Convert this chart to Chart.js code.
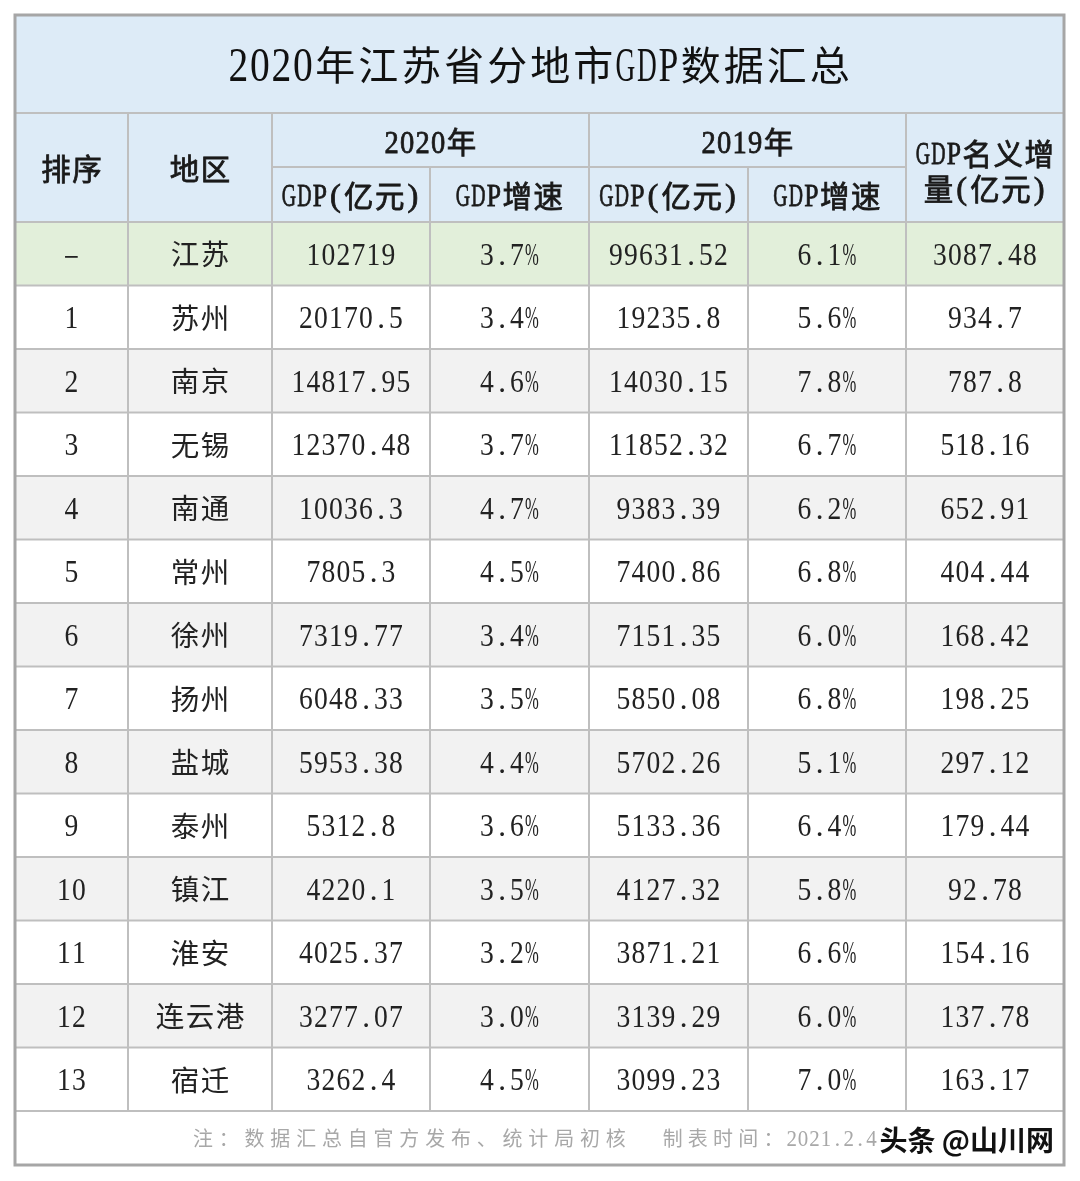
<!DOCTYPE html>
<html>
<head>
<meta charset="utf-8">
<script src="https://cdn.jsdelivr.net/npm/chart.js@4"></script>
<style>
  html, body { margin: 0; padding: 0; background: #ffffff; }
  #wrap { width: 1080px; height: 1181px; }
</style>
</head>
<body>
<div id="wrap"><canvas id="tableChart" width="1080" height="1181"></canvas></div>
<script>
// Données du tableau : une ligne par région (la première = total provincial)
const ranks = ['–', '1', '2', '3', '4', '5', '6', '7', '8', '9', '10', '11', '12', '13'];
const regions = ['江苏', '苏州', '南京', '无锡', '南通', '常州', '徐州', '扬州', '盐城', '泰州', '镇江', '淮安', '连云港', '宿迁'];
const gdp2020 = [102719, 20170.5, 14817.95, 12370.48, 10036.3, 7805.3, 7319.77, 6048.33, 5953.38, 5312.8, 4220.1, 4025.37, 3277.07, 3262.4];
const growth2020 = [3.7, 3.4, 4.6, 3.7, 4.7, 4.5, 3.4, 3.5, 4.4, 3.6, 3.5, 3.2, 3.0, 4.5];
const gdp2019 = [99631.52, 19235.8, 14030.15, 11852.32, 9383.39, 7400.86, 7151.35, 5850.08, 5702.26, 5133.36, 4127.32, 3871.21, 3139.29, 3099.23];
const growth2019 = [6.1, 5.6, 7.8, 6.7, 6.2, 6.8, 6.0, 6.8, 5.1, 6.4, 5.8, 6.6, 6.0, 7.0];
const increase = [3087.48, 934.7, 787.8, 518.16, 652.91, 404.44, 168.42, 198.25, 297.12, 179.44, 92.78, 154.16, 137.78, 163.17];

// Textes fixes
const titleText = '2020年江苏省分地市GDP数据汇总';
const noteText = '注：数据汇总自官方发布、统计局初核';
const dateText = '制表时间：2021.2.4';
const brandText = '头条 @山川网';

// Géométrie du tableau (unités des échelles)
const colEdges = [0, 113, 257, 415, 574, 733, 891, 1049];
const titleBottom = 98, headMid = 152, headBottom = 207;
const rowH = 63.5;
const bodyBottom = headBottom + rowH * regions.length;
const tableBottom = bodyBottom + 54;

const BLUE = '#ddebf7', GREEN = '#e2efda', GREY = '#f2f2f2';
const LINE = '#bfbfbf', BORDER = '#a6a6a6';
const LATIN = '"Liberation Serif"', CJK = '"Noto Sans CJK SC"';

const colValues = [ranks, regions, gdp2020, growth2020, gdp2019, growth2019, increase];
const formatters = [
  (v) => v, (v) => v, (v) => String(v), (v) => v.toFixed(1) + '%',
  (v) => String(v), (v) => v.toFixed(1) + '%', (v) => String(v)
];

// Dessin d'une chaîne façon « SimSun » : demi-chasse pour l'ASCII, chasse pleine pour le CJK
function drawSong(ctx, str, x, y, size, opts) {
  opts = opts || {};
  const half = opts.half || size * 0.5;
  const full = opts.full || size;
  const latinSize = size * (opts.latinScale || 1);
  const cjkSize = size * (opts.cjkScale || 0.95);
  const cjkDy = -size * 0.07;
  const chars = Array.from(str);
  const isHalf = chars.map((ch) => /[\x00-\xff]/.test(ch));
  const advs = isHalf.map((h) => (h ? half : full));
  const total = advs.reduce((a, b) => a + b, 0);
  let cx = opts.align === 'left' ? x : x - total / 2;
  const weight = opts.weight || 'normal';
  ctx.save();
  ctx.fillStyle = opts.color || '#1e1e1e';
  ctx.strokeStyle = opts.color || '#1e1e1e';
  ctx.lineWidth = opts.stroke || 0;
  ctx.textAlign = 'center';
  ctx.textBaseline = 'middle';
  chars.forEach((ch, i) => {
    const slot = advs[i];
    const mid = cx + slot / 2;
    ctx.font = isHalf[i]
      ? weight + ' ' + latinSize + 'px ' + LATIN
      : weight + ' ' + cjkSize + 'px ' + CJK;
    const w = ctx.measureText(ch).width;
    ctx.save();
    ctx.translate(mid, y + (isHalf[i] ? 0 : cjkDy));
    if (w > slot * 0.96) ctx.scale((slot * 0.92) / w, 1);
    ctx.fillText(ch, 0, 0);
    if (opts.stroke) ctx.strokeText(ch, 0, 0);
    ctx.restore();
    cx += slot;
  });
  ctx.restore();
}

const tablePlugin = {
  id: 'tablePlugin',
  beforeDatasetsDraw(chart) {
    const ctx = chart.ctx;
    const sx = chart.scales.x, sy = chart.scales.y;
    const px = (v) => sx.getPixelForValue(v);
    const py = (v) => sy.getPixelForValue(v);
    const L = px(0), R = px(1049);

    // Fonds
    ctx.save();
    ctx.fillStyle = BLUE;
    ctx.fillRect(L, py(0), R - L, py(headBottom) - py(0));
    regions.forEach((r, i) => {
      ctx.fillStyle = i === 0 ? GREEN : (i % 2 === 0 ? GREY : '#ffffff');
      ctx.fillRect(L, py(headBottom + rowH * i), R - L, py(headBottom + rowH * (i + 1)) - py(headBottom + rowH * i));
    });
    ctx.fillStyle = '#ffffff';
    ctx.fillRect(L, py(bodyBottom), R - L, py(tableBottom) - py(bodyBottom));

    // Quadrillage
    ctx.strokeStyle = LINE;
    ctx.lineWidth = 2;
    const hline = (y, x0, x1) => { ctx.beginPath(); ctx.moveTo(px(x0), py(y)); ctx.lineTo(px(x1), py(y)); ctx.stroke(); };
    const vline = (x, y0, y1) => { ctx.beginPath(); ctx.moveTo(px(x), py(y0)); ctx.lineTo(px(x), py(y1)); ctx.stroke(); };
    hline(titleBottom, 0, 1049);
    hline(headMid, colEdges[2], colEdges[6]);
    for (let i = 0; i <= regions.length; i++) hline(headBottom + rowH * i, 0, 1049);
    [1, 2, 4, 6].forEach((c) => vline(colEdges[c], titleBottom, headBottom));
    [3, 5].forEach((c) => vline(colEdges[c], headMid, headBottom));
    for (let c = 1; c < colEdges.length - 1; c++) vline(colEdges[c], headBottom, bodyBottom);

    // Bordure extérieure
    ctx.strokeStyle = BORDER;
    ctx.lineWidth = 3;
    ctx.strokeRect(L, py(0), R - L, py(tableBottom) - py(0));
    ctx.restore();
  },
  afterDatasetsDraw(chart) {
    const ctx = chart.ctx;
    const sx = chart.scales.x, sy = chart.scales.y;
    const px = (v) => sx.getPixelForValue(v);
    const py = (v) => sy.getPixelForValue(v);
    const colMid = (c) => px((colEdges[c] + colEdges[c + 1]) / 2);
    const spanMid = (a, b) => px((colEdges[a] + colEdges[b]) / 2);

    // Titre
    drawSong(ctx, titleText, px(524.5), py(titleBottom / 2) + 4, 43, { color: '#111111', latinScale: 1.15, cjkScale: 0.93 });

    // En-têtes
    const hd = { color: '#1a1a1a', stroke: 0.8, latinScale: 1.05 };
    const yBoth = py((titleBottom + headBottom) / 2) + 3;
    const yTop = py((titleBottom + headMid) / 2) + 4;
    const ySub = py((headMid + headBottom) / 2) + 3;
    drawSong(ctx, '排序', colMid(0), yBoth, 31, hd);
    drawSong(ctx, '地区', colMid(1), yBoth, 31, hd);
    drawSong(ctx, '2020年', spanMid(2, 4), yTop, 31, hd);
    drawSong(ctx, '2019年', spanMid(4, 6), yTop, 31, hd);
    ['GDP(亿元)', 'GDP增速', 'GDP(亿元)', 'GDP增速'].forEach((t, i) => {
      drawSong(ctx, t, colMid(2 + i), ySub, 31, hd);
    });
    drawSong(ctx, 'GDP名义增', colMid(6), yBoth - 15, 31, hd);
    drawSong(ctx, '量(亿元)', colMid(6), yBoth + 20, 31, hd);

    // Cellules de données, placées par les points du graphique
    chart.data.datasets.forEach((ds, c) => {
      const meta = chart.getDatasetMeta(c);
      meta.data.forEach((pt, r) => {
        drawSong(ctx, formatters[c](ds.data[r].v), pt.x, pt.y + 3, 30, { color: '#222222', latinScale: 1.03 });
      });
    });

    // Pied de tableau
    const yFoot = py((bodyBottom + tableBottom) / 2) + 2;
    drawSong(ctx, noteText, px(175), yFoot, 21, { align: 'left', full: 25.8, half: 11.5, color: '#a8a8a8' });
    drawSong(ctx, dateText, px(645), yFoot, 21, { align: 'left', full: 25.2, half: 11.4, color: '#a8a8a8', latinScale: 1.1 });

    // Marque
    ctx.save();
    ctx.font = 'bold 28px ' + CJK;
    ctx.textAlign = 'right';
    ctx.textBaseline = 'middle';
    ctx.lineJoin = 'round';
    ctx.strokeStyle = 'rgba(255,255,255,0.95)';
    ctx.lineWidth = 5;
    ctx.strokeText(brandText, px(1039), yFoot);
    ctx.fillStyle = '#111111';
    ctx.fillText(brandText, px(1039), yFoot);
    ctx.restore();
  }
};

const datasets = colValues.map((vals, c) => ({
  label: 'col' + c,
  data: vals.map((v, r) => ({
    x: (colEdges[c] + colEdges[c + 1]) / 2,
    y: headBottom + rowH * (r + 0.5),
    v: v
  })),
  pointRadius: 0,
  pointHoverRadius: 0,
  showLine: false
}));

new Chart(document.getElementById('tableChart'), {
  type: 'scatter',
  data: { datasets: datasets },
  options: {
    responsive: false,
    devicePixelRatio: 1,
    animation: false,
    layout: { padding: { left: 15, right: 16, top: 15, bottom: 16 } },
    scales: {
      x: { type: 'linear', min: 0, max: 1049, display: false },
      y: { type: 'linear', min: 0, max: tableBottom, reverse: true, display: false }
    },
    plugins: {
      legend: { display: false },
      tooltip: { enabled: false }
    },
    events: []
  },
  plugins: [tablePlugin]
});
</script>
</body>
</html>
